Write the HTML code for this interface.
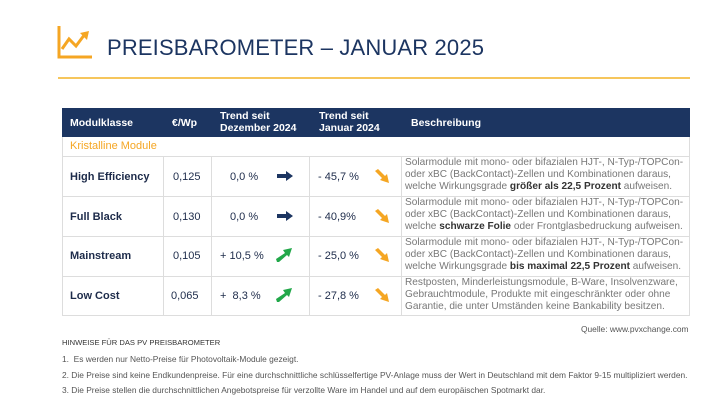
<!DOCTYPE html>
<html><head><meta charset="utf-8"><style>
*{margin:0;padding:0;box-sizing:border-box}
body{width:728px;height:410px;background:#fff;font-family:"Liberation Sans",sans-serif;position:relative;overflow:hidden;color:#1d2b4a}
.a{position:absolute;white-space:nowrap}
.title{left:107px;top:35px;font-size:22px;color:#1c3561;letter-spacing:0.15px}
.hl{left:58px;top:77px;width:632px;height:2px;background:#f6c65c}
.hdr{left:62px;top:108px;width:628px;height:29px;background:#1c3561}
.h{color:#fff;font-weight:bold;font-size:10.5px;line-height:12px}
.kr{left:70px;top:140px;color:#f5a623;font-size:11px}
.grid{position:absolute;background:#ddd}
.c{font-size:11px;color:#1d2b4a}
.b{font-weight:bold}
.d{font-size:10.1px;color:#777;line-height:12px;left:405px}
.d b{color:#333}
.n{font-size:8.4px;color:#555}
</style></head><body>
<svg class="a" style="left:56px;top:24px" width="40" height="36" viewBox="0 0 40 36"><path d="M3 2 V33 H36" stroke="#f5a623" stroke-width="3" fill="none"/><path d="M6 25 L13 15 L20 22 L29 10" stroke="#f5a623" stroke-width="3" fill="none"/><path d="M24 9 L33 7 L31 16 Z" fill="#f5a623"/></svg>
<div class="a title">PREISBAROMETER – JANUAR 2025</div>
<div class="a hl"></div>
<div class="a hdr"></div>
<div class="a h" style="left:70px;top:117px">Modulklasse</div>
<div class="a h" style="left:172px;top:117px">€/Wp</div>
<div class="a h" style="left:220px;top:110px">Trend seit<br>Dezember 2024</div>
<div class="a h" style="left:319px;top:110px">Trend seit<br>Januar 2024</div>
<div class="a h" style="left:411px;top:117px">Beschreibung</div>
<div class="a kr">Kristalline Module</div>
<div class="grid" style="left:62px;top:137px;width:1px;height:179px"></div>
<div class="grid" style="left:689px;top:137px;width:1px;height:179px"></div>
<div class="grid" style="left:62px;top:156px;width:628px;height:1px"></div>
<div class="grid" style="left:62px;top:196px;width:628px;height:1px"></div>
<div class="grid" style="left:62px;top:236px;width:628px;height:1px"></div>
<div class="grid" style="left:62px;top:276px;width:628px;height:1px"></div>
<div class="grid" style="left:62px;top:315px;width:628px;height:1px"></div>
<div class="grid" style="left:163px;top:156px;width:1px;height:160px"></div>
<div class="grid" style="left:211px;top:156px;width:1px;height:160px"></div>
<div class="grid" style="left:309px;top:156px;width:1px;height:160px"></div>
<div class="grid" style="left:401px;top:156px;width:1px;height:160px"></div>

<div class="a c b" style="left:70px;top:171px">High Efficiency</div>
<div class="a c b" style="left:70px;top:211px">Full Black</div>
<div class="a c b" style="left:70px;top:250px">Mainstream</div>
<div class="a c b" style="left:70px;top:290px">Low Cost</div>
<div class="a c" style="left:173px;top:171px">0,125</div>
<div class="a c" style="left:173px;top:211px">0,130</div>
<div class="a c" style="left:173px;top:250px">0,105</div>
<div class="a c" style="left:171px;top:290px">0,065</div>
<div class="a c" style="left:230px;top:171px">0,0 %</div>
<div class="a c" style="left:230px;top:211px">0,0 %</div>
<div class="a c" style="left:220px;top:250px">+ 10,5 %</div>
<div class="a c" style="left:220px;top:290px">+&nbsp; 8,3 %</div>
<div class="a c" style="left:318px;top:171px">- 45,7 %</div>
<div class="a c" style="left:318px;top:211px">- 40,9%</div>
<div class="a c" style="left:318px;top:250px">- 25,0 %</div>
<div class="a c" style="left:318px;top:290px">- 27,8 %</div>

<svg class="a" style="left:277px;top:171px" width="16" height="10"><path d="M0 3 H9 V0 L16 5 L9 10 V7 H0Z" fill="#1c3561"/></svg>
<svg class="a" style="left:277px;top:211px" width="16" height="10"><path d="M0 3 H9 V0 L16 5 L9 10 V7 H0Z" fill="#1c3561"/></svg>
<svg class="a" style="left:276px;top:248px" width="16" height="14"><path d="M1 14 L0 11 L9 5 L7 2 L16 0 L13 9 L11 7 L3 14Z" fill="#22a84a"/></svg>
<svg class="a" style="left:276px;top:288px" width="16" height="14"><path d="M1 14 L0 11 L9 5 L7 2 L16 0 L13 9 L11 7 L3 14Z" fill="#22a84a"/></svg>
<svg class="a" style="left:375px;top:169px" width="14" height="14"><path d="M3 0 L0 2 L7 9 L5 11 L14 14 L12 5 L10 7Z" fill="#f5a623"/></svg>
<svg class="a" style="left:375px;top:209px" width="14" height="14"><path d="M3 0 L0 2 L7 9 L5 11 L14 14 L12 5 L10 7Z" fill="#f5a623"/></svg>
<svg class="a" style="left:375px;top:248px" width="14" height="14"><path d="M3 0 L0 2 L7 9 L5 11 L14 14 L12 5 L10 7Z" fill="#f5a623"/></svg>
<svg class="a" style="left:375px;top:288px" width="14" height="14"><path d="M3 0 L0 2 L7 9 L5 11 L14 14 L12 5 L10 7Z" fill="#f5a623"/></svg>

<div class="a d" style="top:157px">Solarmodule mit mono- oder bifazialen HJT-, N-Typ-/TOPCon-<br>oder xBC (BackContact)-Zellen und Kombinationen daraus,<br>welche Wirkungsgrade <b>größer als 22,5 Prozent</b> aufweisen.</div>
<div class="a d" style="top:197px">Solarmodule mit mono- oder bifazialen HJT-, N-Typ-/TOPCon-<br>oder xBC (BackContact)-Zellen und Kombinationen daraus,<br>welche <b>schwarze Folie</b> oder Frontglasbedruckung aufweisen.</div>
<div class="a d" style="top:237px">Solarmodule mit mono- oder bifazialen HJT-, N-Typ-/TOPCon-<br>oder xBC (BackContact)-Zellen und Kombinationen daraus,<br>welche Wirkungsgrade <b>bis maximal 22,5 Prozent</b> aufweisen.</div>
<div class="a d" style="top:277px">Restposten, Minderleistungsmodule, B-Ware, Insolvenzware,<br>Gebrauchtmodule, Produkte mit eingeschränkter oder ohne<br>Garantie, die unter Umständen keine Bankability besitzen.</div>

<div class="a n" style="left:581px;top:324px">Quelle: www.pvxchange.com</div>
<div class="a" style="left:62px;top:338px;font-size:7.6px;color:#333">HINWEISE FÜR DAS PV PREISBAROMETER</div>
<div class="a n" style="left:62px;top:354px">1.&nbsp; Es werden nur Netto-Preise für Photovoltaik-Module gezeigt.</div>
<div class="a n" style="left:62px;top:370px">2. Die Preise sind keine Endkundenpreise. Für eine durchschnittliche schlüsselfertige PV-Anlage muss der Wert in Deutschland mit dem Faktor 9-15 multipliziert werden.</div>
<div class="a n" style="left:62px;top:385px">3. Die Preise stellen die durchschnittlichen Angebotspreise für verzollte Ware im Handel und auf dem europäischen Spotmarkt dar.</div>
</body></html>
